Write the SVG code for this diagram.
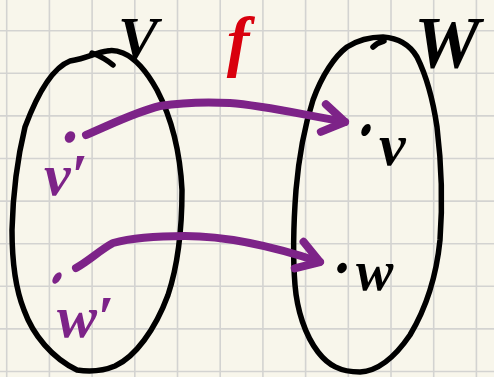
<svg xmlns="http://www.w3.org/2000/svg" width="494" height="377" viewBox="0 0 494 377">
<defs>
<style>
.bg{fill:#f8f6eb}
.grid{stroke:#d3d3d1;stroke-width:1.6;fill:none}
.set{fill:none;stroke:#000;stroke-width:5.5;stroke-linecap:round;stroke-linejoin:round}
.arrow{fill:none;stroke:#7d2388;stroke-width:8;stroke-linecap:round;stroke-linejoin:round}
.lbl{font-family:"Liberation Serif","DejaVu Serif",serif;font-style:italic;font-weight:bold}
.blk{fill:#000}
.pur{fill:#7d2388}
.red{fill:#d9000d}
</style>
<marker id="head" markerUnits="userSpaceOnUse" markerWidth="40" markerHeight="40" refX="0" refY="0" viewBox="-30 -20 40 40" orient="auto" overflow="visible">
<path d="M -22 -14 L 0 0 L -22 14" fill="none" stroke="#7d2388" stroke-width="8" stroke-linecap="round" stroke-linejoin="round"/>
</marker>
</defs>
<rect class="bg" x="0" y="0" width="494" height="377"/>
<path class="grid" d="M6.7 0V377M49.4 0V377M92.1 0V377M134.8 0V377M177.5 0V377M220.2 0V377M262.9 0V377M305.6 0V377M348.3 0V377M391 0V377M433.7 0V377M476.4 0V377M0 30.7H494M0 73.3H494M0 115.9H494M0 158.5H494M0 201.1H494M0 243.7H494M0 286.3H494M0 328.9H494M0 371.5H494"/>
<g id="set-V">
<path class="set" d="M107 51 C97 52 88 58 70 61 C52 68 37 95 25 127 C17 160 13 190 12 230 C12 260 16 290 24 310 C33 335 52 358 77 370 C90 372 103 371 115 366 C135 357 155 330 168 295 C178 265 182 225 182 190 C180 150 170 115 157 90 C147 72 135 58 123 53 C116 50 111 50 107 51 Z"/>
<path class="set" d="M92 53 C100 56 107 60 113 65"/>
<text class="lbl blk" x="118" y="58" font-size="60">V</text>
</g>
<g id="set-W">
<path class="set" d="M383 37 C370 37 358 40 347 47 C335 56 322 75 313 100 C305 125 299 155 296 190 C293 230 293 260 295 285 C297 310 305 335 318 352 C328 365 340 372 360 372 C378 371 395 357 410 335 C425 310 436 280 440 240 C443 200 441 160 437 127 C433 100 426 75 417 57 C410 45 398 38 383 37 Z"/>
<path class="set" d="M373 47 C376 44 380 42 384 41"/>
<text class="lbl blk" x="414" y="68" font-size="74">W</text>
</g>
<g id="pt-v1">
<ellipse class="pur" cx="70" cy="137" rx="5" ry="6" transform="rotate(30 70 137)"/>
<text class="lbl pur" x="44" y="195" font-size="60">v′</text>
</g>
<g id="pt-w1">
<ellipse class="pur" cx="57" cy="278" rx="3.5" ry="6.5" transform="rotate(35 57 278)"/>
<text class="lbl pur" x="57" y="337" font-size="60">w′</text>
</g>
<g id="pt-v">
<ellipse class="blk" cx="366" cy="130" rx="4" ry="6.5" transform="rotate(30 366 130)"/>
<text class="lbl blk" x="379" y="165" font-size="60">v</text>
</g>
<g id="pt-w">
<ellipse class="blk" cx="342" cy="268" rx="4.5" ry="5.5" transform="rotate(35 342 268)"/>
<text class="lbl blk" x="356" y="290" font-size="56">w</text>
</g>
<g id="connectors">
<path class="arrow" marker-end="url(#head)" d="M86 135 C110 125 135 112 160 106 C185 102 210 102 230 103 C260 105 290 112 345 122"/>
<path class="arrow" marker-end="url(#head)" d="M76 268 C90 260 100 250 113 243 C135 237 160 236 185 236 C220 236 260 242 320 262"/>
<text class="lbl red" x="238" y="64" font-size="68" text-anchor="middle">f</text>
</g>
</svg>
